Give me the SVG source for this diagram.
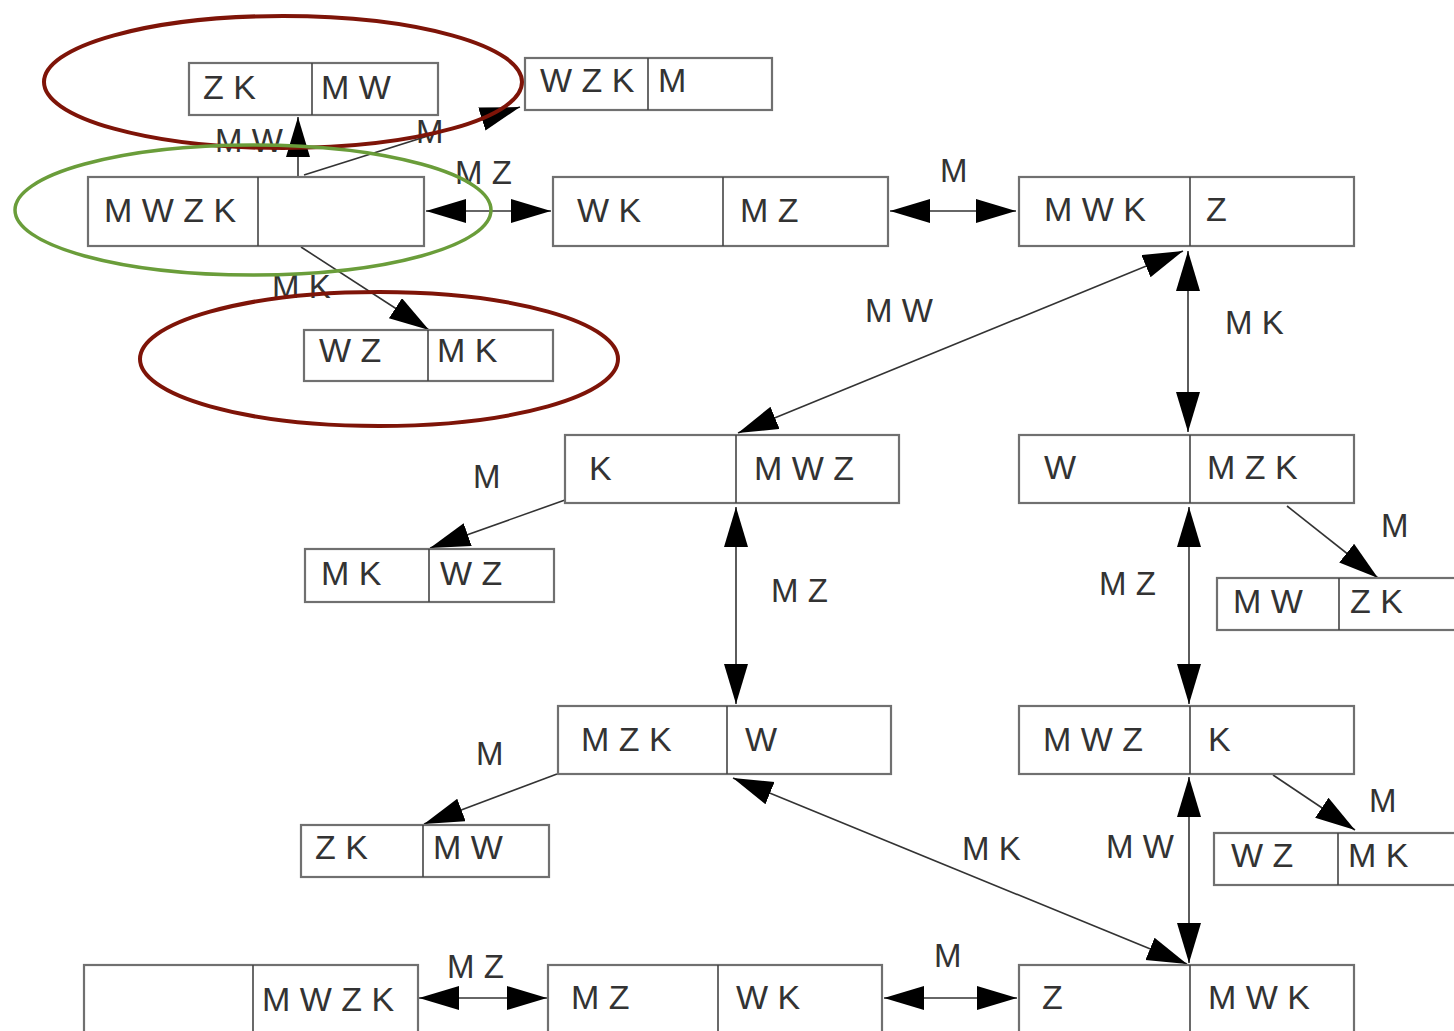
<svg xmlns="http://www.w3.org/2000/svg" width="1454" height="1031" viewBox="0 0 1454 1031">
<style>
.box{fill:#fff;stroke:#707070;stroke-width:2.2}
.div{stroke:#444;stroke-width:1.6}
.t{font-family:"Liberation Sans",Arial,sans-serif;font-size:34px;fill:#333}
.lbl{font-family:"Liberation Sans",Arial,sans-serif;font-size:33px;fill:#333}
.e{fill:none;stroke:#333;stroke-width:1.6}
.red{fill:none;stroke:#7e1408;stroke-width:4}
.green{fill:none;stroke:#6a9d3a;stroke-width:3.5}
</style>
<defs>
<marker id="ah" markerUnits="userSpaceOnUse" markerWidth="42" markerHeight="26" refX="40" refY="12" orient="auto-start-reverse" viewBox="0 0 42 26">
<path d="M0,0 L40,12 L0,24 z" fill="#000"/>
</marker>
</defs>
<rect width="1454" height="1031" fill="#fff"/>
<g id="connectors">
<line class="e" x1="298" y1="177" x2="298" y2="117" marker-end="url(#ah)"/>
<line class="e" x1="304" y1="175" x2="520" y2="107" marker-end="url(#ah)"/>
<line class="e" x1="426" y1="211" x2="551" y2="211" marker-start="url(#ah)" marker-end="url(#ah)"/>
<line class="e" x1="890" y1="211" x2="1016" y2="211" marker-start="url(#ah)" marker-end="url(#ah)"/>
<line class="e" x1="301" y1="247" x2="429" y2="330" marker-end="url(#ah)"/>
<line class="e" x1="1183" y1="251" x2="738" y2="433" marker-start="url(#ah)" marker-end="url(#ah)"/>
<line class="e" x1="1188" y1="251" x2="1188" y2="432" marker-start="url(#ah)" marker-end="url(#ah)"/>
<line class="e" x1="565" y1="500" x2="430" y2="548" marker-end="url(#ah)"/>
<line class="e" x1="736" y1="507" x2="736" y2="704" marker-start="url(#ah)" marker-end="url(#ah)"/>
<line class="e" x1="1189" y1="507" x2="1189" y2="704" marker-start="url(#ah)" marker-end="url(#ah)"/>
<line class="e" x1="1287" y1="506" x2="1378" y2="578" marker-end="url(#ah)"/>
<line class="e" x1="557" y1="774" x2="424" y2="824" marker-end="url(#ah)"/>
<line class="e" x1="733" y1="778" x2="1187" y2="964" marker-start="url(#ah)" marker-end="url(#ah)"/>
<line class="e" x1="1189" y1="777" x2="1189" y2="963" marker-start="url(#ah)" marker-end="url(#ah)"/>
<line class="e" x1="1273" y1="775" x2="1355" y2="830" marker-end="url(#ah)"/>
<line class="e" x1="419" y1="998" x2="547" y2="998" marker-start="url(#ah)" marker-end="url(#ah)"/>
<line class="e" x1="884" y1="998" x2="1017" y2="998" marker-start="url(#ah)" marker-end="url(#ah)"/>
</g>
<g id="labels">
<text class="lbl" x="215" y="152">M W</text>
<text class="lbl" x="416" y="143">M</text>
<text class="lbl" x="455" y="184">M Z</text>
<text class="lbl" x="272" y="298">M K</text>
<text class="lbl" x="940" y="182">M</text>
<text class="lbl" x="865" y="322">M W</text>
<text class="lbl" x="1225" y="334">M K</text>
<text class="lbl" x="473" y="488">M</text>
<text class="lbl" x="771" y="602">M Z</text>
<text class="lbl" x="1099" y="595">M Z</text>
<text class="lbl" x="1381" y="537">M</text>
<text class="lbl" x="476" y="765">M</text>
<text class="lbl" x="962" y="860">M K</text>
<text class="lbl" x="1106" y="858">M W</text>
<text class="lbl" x="1369" y="812">M</text>
<text class="lbl" x="447" y="978">M Z</text>
<text class="lbl" x="934" y="967">M</text>
</g>
<g id="n1"><rect class="box" x="189" y="63" width="249" height="52"/><line class="div" x1="312" y1="63" x2="312" y2="115"/><text class="t" x="203" y="99">Z K</text><text class="t" x="321" y="99">M W</text></g>
<g id="n2"><rect class="box" x="525" y="58" width="247" height="52"/><line class="div" x1="648" y1="58" x2="648" y2="110"/><text class="t" x="540" y="92">W Z K</text><text class="t" x="658" y="92">M</text></g>
<g id="n3"><rect class="box" x="88" y="177" width="336" height="69"/><line class="div" x1="258" y1="177" x2="258" y2="246"/><text class="t" x="104" y="222">M W Z K</text></g>
<g id="n4"><rect class="box" x="553" y="177" width="335" height="69"/><line class="div" x1="723" y1="177" x2="723" y2="246"/><text class="t" x="577" y="222">W K</text><text class="t" x="740" y="222">M Z</text></g>
<g id="n5"><rect class="box" x="1019" y="177" width="335" height="69"/><line class="div" x1="1190" y1="177" x2="1190" y2="246"/><text class="t" x="1044" y="221">M W K</text><text class="t" x="1206" y="221">Z</text></g>
<g id="n6"><rect class="box" x="304" y="330" width="249" height="51"/><line class="div" x1="428" y1="330" x2="428" y2="381"/><text class="t" x="319" y="362">W Z</text><text class="t" x="437" y="362">M K</text></g>
<g id="n7"><rect class="box" x="565" y="435" width="334" height="68"/><line class="div" x1="736" y1="435" x2="736" y2="503"/><text class="t" x="589" y="480">K</text><text class="t" x="754" y="480">M W Z</text></g>
<g id="n8"><rect class="box" x="1019" y="435" width="335" height="68"/><line class="div" x1="1190" y1="435" x2="1190" y2="503"/><text class="t" x="1044" y="479">W</text><text class="t" x="1207" y="479">M Z K</text></g>
<g id="n9"><rect class="box" x="305" y="549" width="249" height="53"/><line class="div" x1="429" y1="549" x2="429" y2="602"/><text class="t" x="321" y="585">M K</text><text class="t" x="440" y="585">W Z</text></g>
<g id="n10"><rect class="box" x="1217" y="578" width="260" height="52"/><line class="div" x1="1339" y1="578" x2="1339" y2="630"/><text class="t" x="1233" y="613">M W</text><text class="t" x="1350" y="613">Z K</text></g>
<g id="n11"><rect class="box" x="558" y="706" width="333" height="68"/><line class="div" x1="727" y1="706" x2="727" y2="774"/><text class="t" x="581" y="751">M Z K</text><text class="t" x="745" y="751">W</text></g>
<g id="n12"><rect class="box" x="1019" y="706" width="335" height="68"/><line class="div" x1="1190" y1="706" x2="1190" y2="774"/><text class="t" x="1043" y="751">M W Z</text><text class="t" x="1208" y="751">K</text></g>
<g id="n13"><rect class="box" x="301" y="825" width="248" height="52"/><line class="div" x1="423" y1="825" x2="423" y2="877"/><text class="t" x="315" y="859">Z K</text><text class="t" x="433" y="859">M W</text></g>
<g id="n14"><rect class="box" x="1214" y="833" width="260" height="52"/><line class="div" x1="1338" y1="833" x2="1338" y2="885"/><text class="t" x="1231" y="867">W Z</text><text class="t" x="1348" y="867">M K</text></g>
<g id="n15"><rect class="box" x="84" y="965" width="334" height="80"/><line class="div" x1="253" y1="965" x2="253" y2="1045"/><text class="t" x="262" y="1011">M W Z K</text></g>
<g id="n16"><rect class="box" x="548" y="965" width="334" height="80"/><line class="div" x1="718" y1="965" x2="718" y2="1045"/><text class="t" x="571" y="1009">M Z</text><text class="t" x="736" y="1009">W K</text></g>
<g id="n17"><rect class="box" x="1019" y="965" width="335" height="80"/><line class="div" x1="1190" y1="965" x2="1190" y2="1045"/><text class="t" x="1042" y="1009">Z</text><text class="t" x="1208" y="1009">M W K</text></g>
<g id="highlights">
<ellipse class="red" cx="283" cy="82" rx="239" ry="66"/>
<ellipse class="green" cx="253" cy="210" rx="238" ry="65"/>
<ellipse class="red" cx="379" cy="359" rx="239" ry="67"/>
</g>
</svg>
